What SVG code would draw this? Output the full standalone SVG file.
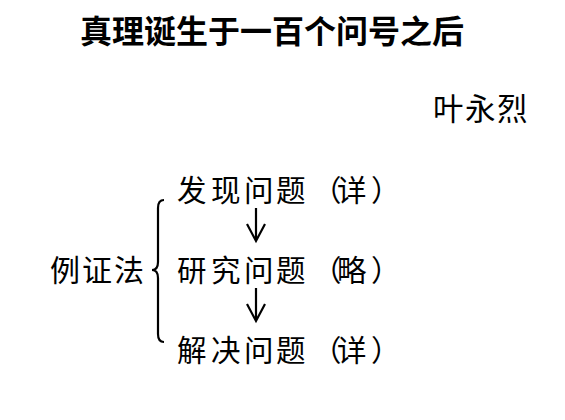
<svg xmlns="http://www.w3.org/2000/svg" width="565" height="420" viewBox="0 0 565 420">
<style>
.t{font-family:"Noto Sans CJK SC","Noto Sans CJK JP",sans-serif;fill:#000}
.r{font-size:29.5px}
.c{stroke:#000;stroke-width:2.2;fill:none}
</style>
<rect width="565" height="420" fill="#fff"/>
<g id="title"><text class="t" x="80" y="43" font-size="32" font-weight="bold">真理诞生于一百个问号之后</text></g>
<g id="author"><text class="t" x="433 465 497" y="120" font-size="30.5">叶永烈</text></g>
<g id="method"><text class="t" x="50 82 114" y="281" font-size="30">例证法</text></g>
<g id="n1"><text class="t r" x="177 211 244 276 312 337 371" y="201">发现问题（详）</text></g>
<g id="n2"><text class="t r" x="177 211 244 276 312 337 371" y="281">研究问题（略）</text></g>
<g id="n3"><text class="t r" x="177 211 244 276 312 337 371" y="361">解决问题（详）</text></g>
<g id="connectors">
<path class="c" d="M164,200 Q158,200 158,208 L158,262 Q158,270 152,270 Q158,270 158,278 L158,334 Q158,342 164,342"/>
<path class="c" d="M256,208 L256,241 M247,224 L256,241 L265,224"/>
<path class="c" d="M256,288 L256,321 M247,304 L256,321 L265,304"/>
</g>
</svg>
